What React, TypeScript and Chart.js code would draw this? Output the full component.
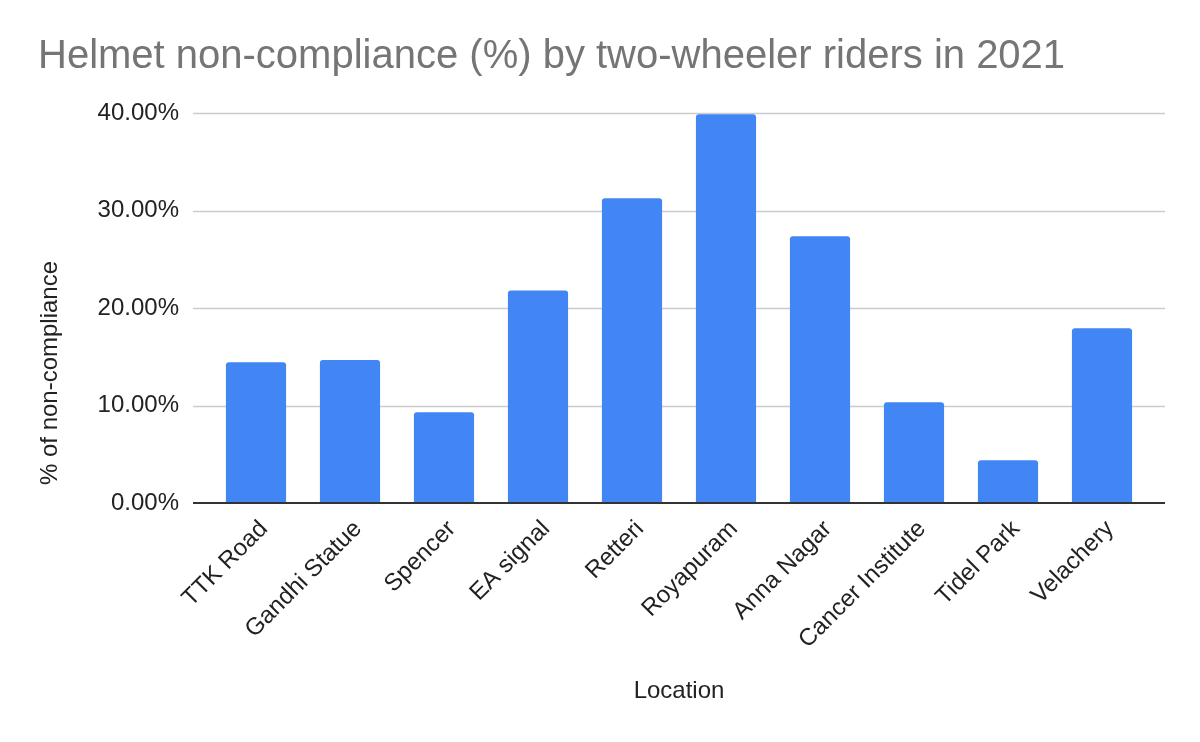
import React, { useEffect, useRef } from "react";
import { Chart, registerables } from "chart.js";

Chart.register(...registerables);

const chartTitle = "Helmet non-compliance (%) by two-wheeler riders in 2021";
const xAxisTitle = "Location";
const yAxisTitle = "% of non-compliance";
const locations = [
  "TTK Road",
  "Gandhi Statue",
  "Spencer",
  "EA signal",
  "Retteri",
  "Royapuram",
  "Anna Nagar",
  "Cancer Institute",
  "Tidel Park",
  "Velachery",
];
const nonCompliance = [14.43, 14.67, 9.3, 21.8, 31.25, 39.87, 27.35, 10.33, 4.38, 17.92];
const yMin = 0;
const yMax = 40;
const yStep = 10;

const FONT = "'Liberation Sans', Arial, sans-serif";

const decorPlugin = {
  id: "decor",
  beforeDatasetsDraw(chart: any) {
    const { ctx, chartArea, scales } = chart;
    const y = scales.y;
    const left = chartArea.left - 16;
    const right = chartArea.right + 16;
    ctx.save();
    y.ticks.forEach((t: any) => {
      if (t.value === yMin) return;
      const py = Math.round(y.getPixelForValue(t.value)) + 0.5;
      ctx.strokeStyle = "#cccccc";
      ctx.lineWidth = 1.5;
      ctx.beginPath();
      ctx.moveTo(left, py);
      ctx.lineTo(right, py);
      ctx.stroke();
    });
    ctx.restore();
  },
  afterDatasetsDraw(chart: any) {
    const { ctx, chartArea, scales } = chart;
    const y = scales.y;
    const left = chartArea.left - 16;
    const right = chartArea.right + 16;
    const py = y.getPixelForValue(yMin);
    ctx.save();
    ctx.strokeStyle = "#333333";
    ctx.lineWidth = 2;
    ctx.beginPath();
    ctx.moveTo(left, py);
    ctx.lineTo(right, py);
    ctx.stroke();
    ctx.restore();
  },
  afterDraw(chart: any) {
    const { ctx } = chart;
    ctx.save();
    ctx.fillStyle = "#757575";
    ctx.font = `40px ${FONT}`;
    ctx.textAlign = "left";
    ctx.textBaseline = "alphabetic";
    ctx.fillText(chartTitle, 38, 68);
    ctx.translate(50, 373);
    ctx.rotate(-Math.PI / 2);
    ctx.fillStyle = "#222222";
    ctx.font = `24px ${FONT}`;
    ctx.textAlign = "center";
    ctx.textBaseline = "middle";
    ctx.fillText(yAxisTitle, 0, 0);
    ctx.restore();
  },
};

export default function App() {
  const ref = useRef<HTMLCanvasElement | null>(null);
  useEffect(() => {
    if (!ref.current) return;
    const chart = new Chart(ref.current, {
      type: "bar",
      data: {
        labels: locations,
        datasets: [
          {
            data: nonCompliance,
            backgroundColor: "#4285f4",
            borderRadius: 3,
            borderSkipped: "bottom",
            categoryPercentage: 1,
            barPercentage: 0.64,
          },
        ],
      },
      options: {
        animation: false,
        responsive: false,
        maintainAspectRatio: false,
        layout: { padding: { top: 113, left: 0, right: 51, bottom: 0 } },
        plugins: {
          legend: { display: false },
          tooltip: { enabled: false },
          title: { display: false },
        },
        scales: {
          x: {
            type: "category",
            offset: true,
            grid: { display: false, drawTicks: false },
            border: { display: false },
            ticks: {
              font: { family: FONT, size: 24 },
              color: "#222222",
              minRotation: 45,
              maxRotation: 45,
              padding: 12,
              labelOffset: 8,
              autoSkip: false,
            },
            title: {
              display: true,
              text: xAxisTitle,
              font: { family: FONT, size: 24 },
              color: "#222222",
              padding: { top: 0, bottom: 36 },
            },
            afterFit: (s: any) => {
              s.height = 742 - 503;
            },
          },
          y: {
            min: yMin,
            max: yMax,
            grid: { display: false, drawTicks: false },
            border: { display: false },
            ticks: {
              stepSize: yStep,
              font: { family: FONT, size: 24 },
              color: "#222222",
              padding: 30,
              callback: (v: any) => Number(v).toFixed(2) + "%",
            },
            afterFit: (s: any) => {
              s.width = 209;
            },
          },
        },
      },
      plugins: [decorPlugin],
    });
    return () => chart.destroy();
  }, []);
  return (
    <div style={{ position: "fixed", left: 0, top: 0, width: 1200, height: 742, background: "#fff" }}>
      <canvas ref={ref} width={1200} height={742} style={{ width: 1200, height: 742, display: "block" }} />
    </div>
  );
}
